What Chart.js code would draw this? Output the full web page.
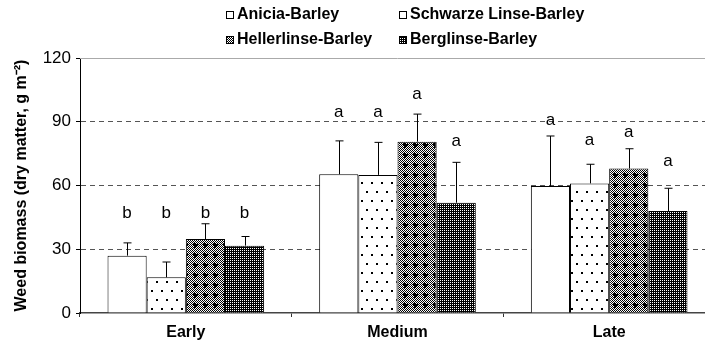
<!DOCTYPE html>
<html>
<head>
<meta charset="utf-8">
<script src="https://cdn.jsdelivr.net/npm/chart.js@4"></script>
<style>
  html, body { margin: 0; padding: 0; background: #fff; overflow: hidden; }
  #wrap { width: 705px; height: 347px; overflow: hidden; }
</style>
</head>
<body>
<div id="wrap"><canvas id="chart" width="715" height="347"></canvas></div>
<script>
// values
const categories = ['Early', 'Medium', 'Late'];
const seriesNames = ['Anicia-Barley', 'Schwarze Linse-Barley', 'Hellerlinse-Barley', 'Berglinse-Barley'];
const anicia = [27, 65.3, 59.8];
const schwarze = [16.8, 65, 61];
const heller = [34.8, 80.6, 68];
const berg = [31.7, 51.9, 48];
// upper error (standard error) per bar
const aniciaErr = [6, 15.7, 23.5];
const schwarzeErr = [7.2, 15.3, 9];
const hellerErr = [7.2, 13, 9.3];
const bergErr = [4.3, 19, 10.7];
// significance letters and the value height they are written at
const letters = [['b', 'a', 'a'], ['b', 'a', 'a'], ['b', 'a', 'a'], ['b', 'a', 'a']];
const letterHeights = [[47, 94.6, 90.8], [47, 94.6, 81.4], [47, 103, 85], [47, 81, 71.5]];
const yTicks = [0, 30, 60, 90, 120];

const FONT = '"Liberation Sans", Arial, sans-serif';

function makePattern(w, h, draw) {
    const c = document.createElement('canvas');
    c.width = w;
    c.height = h;
    const g = c.getContext('2d');
    g.fillStyle = '#fff';
    g.fillRect(0, 0, w, h);
    g.fillStyle = '#000';
    draw(g);
    return g.createPattern(c, 'repeat');
}

const dotPattern = makePattern(10, 18, g => {
    g.fillRect(1, 2, 2, 2);
    g.fillRect(6, 11, 2, 2);
});
const crossPattern = makePattern(10, 10, g => {
    for (let x = 0; x < 10; x++) {
        for (let y = 0; y < 10; y++) {
            if ((x + y) % 2 === 0) g.fillRect(x, y, 1, 1);
        }
    }
    g.fillRect(4, 3, 2, 5);
    g.fillRect(3, 4, 5, 2);
});
const darkPattern = makePattern(2, 2, g => {
    g.fillRect(0, 0, 2, 2);
    g.fillStyle = '#fff';
    g.fillRect(0, 0, 1, 1);
});

const fills = ['#fff', dotPattern, crossPattern, darkPattern];
const values = [anicia, schwarze, heller, berg];
const errors = [aniciaErr, schwarzeErr, hellerErr, bergErr];

const errorBarPlugin = {
    id: 'errorBars',
    beforeDatasetsDraw(chart) {
        // light top frame line at 120
        const { ctx, chartArea, scales } = chart;
        const y = Math.round(scales.y.getPixelForValue(120)) + 0.5;
        ctx.save();
        ctx.strokeStyle = '#aaa';
        ctx.lineWidth = 1;
        ctx.beginPath();
        ctx.moveTo(chartArea.left, y);
        ctx.lineTo(chartArea.right, y);
        ctx.stroke();
        ctx.restore();
    },
    afterDatasetsDraw(chart) {
        const { ctx, scales } = chart;
        ctx.save();
        ctx.strokeStyle = '#000';
        ctx.lineWidth = 1;
        ctx.fillStyle = '#000';
        ctx.font = '17px ' + FONT;
        ctx.textAlign = 'center';
        ctx.textBaseline = 'middle';
        chart.data.datasets.forEach((ds, i) => {
            chart.getDatasetMeta(i).data.forEach((bar, j) => {
                const x = Math.round(bar.x) + 0.5;
                const yTop = scales.y.getPixelForValue(ds.data[j] + errors[i][j]);
                ctx.beginPath();
                ctx.moveTo(x, bar.y);
                ctx.lineTo(x, yTop);
                ctx.moveTo(x - 4, yTop);
                ctx.lineTo(x + 4, yTop);
                ctx.stroke();
                ctx.fillText(letters[i][j], bar.x, scales.y.getPixelForValue(letterHeights[i][j]));
            });
        });
        ctx.restore();
    }
};

const legendPlugin = {
    id: 'gridLegend',
    afterDraw(chart) {
        const ctx = chart.ctx;
        const cols = [226, 399];
        const rows = [15, 40];
        ctx.save();
        ctx.font = 'bold 16px ' + FONT;
        ctx.textBaseline = 'middle';
        ctx.textAlign = 'left';
        seriesNames.forEach((name, i) => {
            const bx = cols[i % 2];
            const by = rows[Math.floor(i / 2)];
            ctx.fillStyle = fills[i];
            ctx.fillRect(bx, by - 4, 8, 8);
            ctx.strokeStyle = '#000';
            ctx.lineWidth = 1;
            ctx.strokeRect(bx + 0.5, by - 3.5, 7, 7);
            ctx.fillStyle = '#000';
            ctx.fillText(name, bx + 11, by);
        });
        ctx.restore();
    }
};

const datasets = seriesNames.map((name, i) => ({
    label: name,
    data: values[i],
    backgroundColor: fills[i],
    borderColor: '#000',
    borderWidth: 1,
    barPercentage: 1,
    categoryPercentage: 0.74
}));

new Chart(document.getElementById('chart'), {
    type: 'bar',
    data: { labels: categories, datasets: datasets },
    plugins: [errorBarPlugin, legendPlugin],
    options: {
        responsive: false,
        animation: false,
        layout: { padding: { top: 58, left: 0, right: 0, bottom: 0 } },
        plugins: {
            legend: { display: false },
            tooltip: { enabled: false }
        },
        scales: {
            x: {
                afterFit: scale => { scale.height = 34; },
                grid: {
                    offset: true,
                    drawOnChartArea: false,
                    drawTicks: true,
                    tickLength: 4,
                    tickColor: '#333'
                },
                border: { color: '#444', width: 1.5 },
                ticks: {
                    color: '#000',
                    font: { family: FONT, size: 16, weight: 'bold' },
                    padding: 6
                }
            },
            y: {
                min: 0,
                max: 120,
                afterFit: scale => { scale.width = 80; },
                afterBuildTicks: scale => { scale.ticks = yTicks.map(v => ({ value: v })); },
                grid: {
                    color: c => (c.tick && c.tick.value > 0 && c.tick.value < 120) ? '#555' : 'rgba(0,0,0,0)',
                    lineWidth: 1,
                    drawTicks: true,
                    tickLength: 4,
                    tickColor: '#000'
                },
                border: { color: '#000', width: 1, dash: [5, 4] },
                ticks: {
                    color: '#000',
                    font: { family: FONT, size: 17 },
                    padding: 5
                },
                title: {
                    display: true,
                    text: 'Weed biomass (dry matter, g m\u207B\u00B2)',
                    color: '#000',
                    font: { family: FONT, size: 16, weight: 'bold' },
                    padding: { top: 12, bottom: 0 }
                }
            }
        }
    }
});
</script>
</body>
</html>
